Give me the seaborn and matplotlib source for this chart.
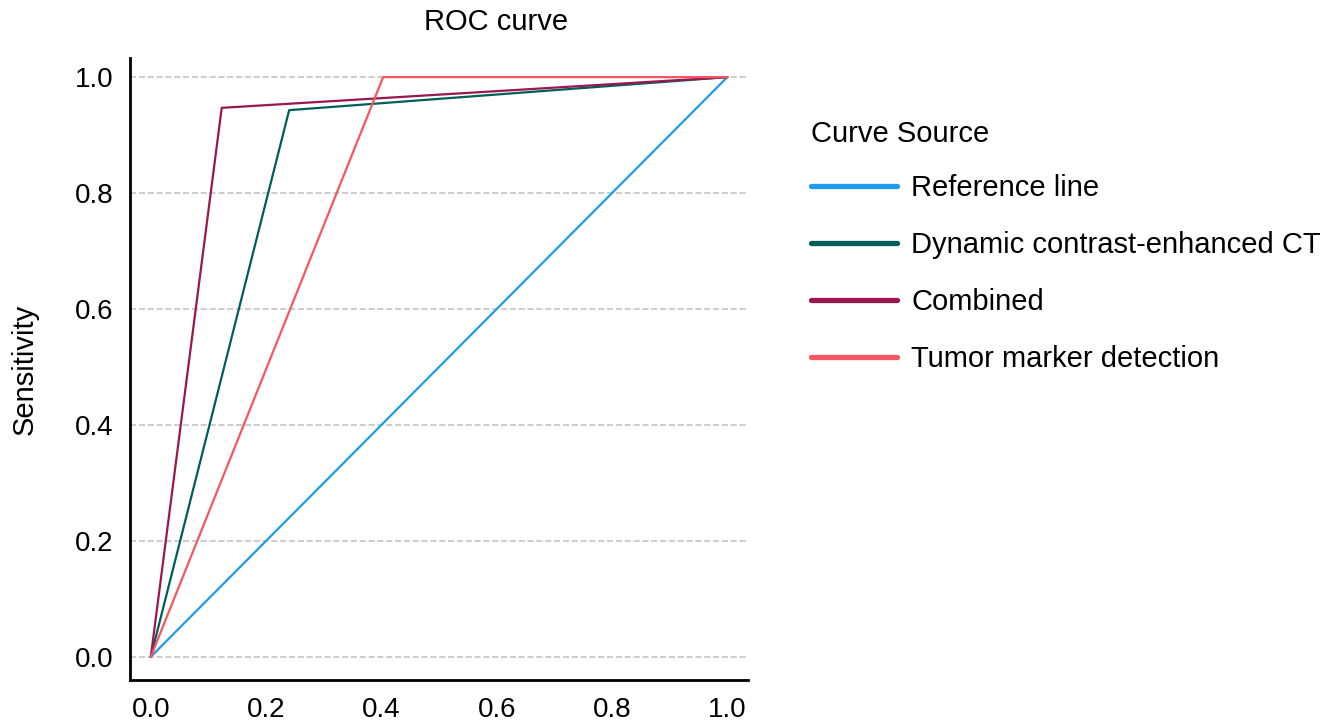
import pandas as pd
import matplotlib.pyplot as plt
import seaborn as sns

# ── DATA ───────────────────────────────────────────────
sources = ['Reference line', 'Dynamic contrast-enhanced CT', 'Combined', 'Tumor marker detection']
ref_fpr = [0.0, 1.0]
ref_tpr = [0.0, 1.0]
ct_fpr = [0.0, 0.240, 1.0]
ct_tpr = [0.0, 0.943, 1.0]
comb_fpr = [0.0, 0.123, 1.0]
comb_tpr = [0.0, 0.947, 1.0]
tm_fpr = [0.0, 0.403, 1.0]
tm_tpr = [0.0, 1.0, 1.0]
colors = ['#1E9BEF', '#005E5A', '#9A1750', '#F6565F']

rows = []
for name, xs, ys in zip(sources, [ref_fpr, ct_fpr, comb_fpr, tm_fpr], [ref_tpr, ct_tpr, comb_tpr, tm_tpr]):
    for x, y in zip(xs, ys):
        rows.append({'1 - Specificity': x, 'Sensitivity': y, 'Curve Source': name})
df = pd.DataFrame(rows)

# ── PLOT ───────────────────────────────────────────────
sns.set_theme(style='white')
plt.rcParams['font.family'] = ['Liberation Sans', 'DejaVu Sans']
plt.rcParams['text.color'] = 'black'

fig = plt.figure(figsize=(13.38, 7.24), dpi=100)
ax = fig.add_axes([0.0972, 0.0608, 0.4619, 0.8591])

sns.lineplot(data=df, x='1 - Specificity', y='Sensitivity', hue='Curve Source',
             hue_order=sources, palette=colors, estimator=None, sort=False,
             linewidth=1.6, ax=ax)

ax.set_xlim(-0.036, 1.036)
ax.set_ylim(-0.04, 1.033)
ax.set_xticks([0.0, 0.2, 0.4, 0.6, 0.8, 1.0])
ax.set_yticks([0.0, 0.2, 0.4, 0.6, 0.8, 1.0])
ax.set_xticklabels(['0.0', '0.2', '0.4', '0.6', '0.8', '1.0'])
ax.set_yticklabels(['0.0', '0.2', '0.4', '0.6', '0.8', '1.0'])
ax.tick_params(axis='x', labelsize=20, length=0, pad=12, colors='black')
ax.tick_params(axis='y', labelsize=20, length=0, pad=12, colors='black')
ax.yaxis.grid(True, linestyle='--', color='#c4c4c4', linewidth=1.2)
ax.xaxis.grid(False)
ax.set_axisbelow(True)
sns.despine(ax=ax)
for s in ['left', 'bottom']:
    ax.spines[s].set_color('black')
    ax.spines[s].set_linewidth(2)

ax.set_xlabel('')
ax.set_ylabel('Sensitivity', fontsize=21, labelpad=26, color='black')
fig.text(496 / 1338, 1 - 22 / 724, 'ROC curve', ha='center', va='center', fontsize=21, color='black')

sns.move_legend(ax, 'upper left', bbox_to_anchor=(811 / 1338, 1 - 120 / 724), bbox_transform=fig.transFigure,
                frameon=False, title='Curve Source', fontsize=21, title_fontsize=21,
                handlelength=2.95, labelspacing=0.99, handletextpad=0.48, borderpad=0,
                borderaxespad=0, labelcolor='black')
leg = ax.get_legend()
leg._legend_box.align = 'left'
leg._legend_box.sep = 19
leg.get_title().set_color('black')
for h in leg.get_lines():
    h.set_linewidth(3.8)

plt.savefig('out.png', dpi=100)
